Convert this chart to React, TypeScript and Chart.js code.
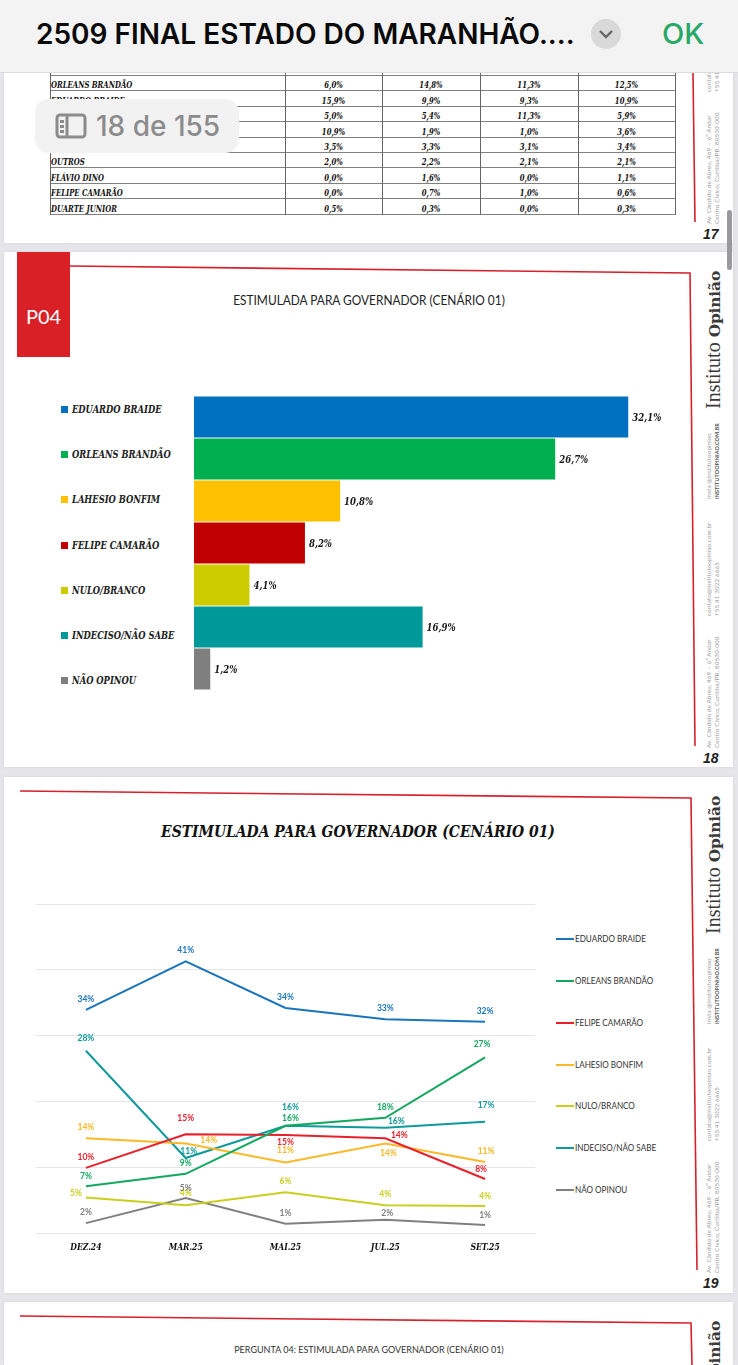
import React, { useEffect, useRef } from "react";
import { Chart, registerables } from "chart.js";

Chart.register(...registerables);

// ---------- data ----------
const barCategories = ["EDUARDO BRAIDE", "ORLEANS BRANDÃO", "LAHESIO BONFIM", "FELIPE CAMARÃO", "NULO/BRANCO", "INDECISO/NÃO SABE", "NÃO OPINOU"];
const barValues = [32.1, 26.7, 10.8, 8.2, 4.1, 16.9, 1.2];
const barColors = ["#0070c0", "#00b050", "#ffc000", "#c00000", "#cccc00", "#009999", "#7f7f7f"];

const waves = ["DEZ.24", "MAR.25", "MAI.25", "JUL.25", "SET.25"];
const braide = [33.9, 41.3, 34.2, 32.5, 32.1];
const orleans = [7.1, 9.0, 16.3, 17.5, 26.7];
const camarao = [9.9, 15.0, 14.9, 14.4, 8.2];
const lahesio = [14.4, 13.6, 10.7, 13.6, 10.8];
const nulo = [5.4, 4.2, 6.2, 4.2, 4.1];
const indeciso = [27.7, 11.4, 16.3, 16.0, 16.9];
const naoOpinou = [1.5, 5.3, 1.4, 2.0, 1.2];

const tableRows = [
  ["ORLEANS BRANDÃO", "6,0%", "14,8%", "11,3%", "12,5%"],
  ["EDUARDO BRAIDE", "15,9%", "9,9%", "9,3%", "10,9%"],
  ["", "5,0%", "5,4%", "11,3%", "5,9%"],
  ["", "10,9%", "1,9%", "1,0%", "3,6%"],
  ["", "3,5%", "3,3%", "3,1%", "3,4%"],
  ["OUTROS", "2,0%", "2,2%", "2,1%", "2,1%"],
  ["FLÁVIO DINO", "0,0%", "1,6%", "0,0%", "1,1%"],
  ["FELIPE CAMARÃO", "0,0%", "0,7%", "1,0%", "0,6%"],
  ["DUARTE JUNIOR", "0,5%", "0,3%", "0,0%", "0,3%"],
];

// ---------- styling tables ----------
const SLAB = '"DejaVu Serif Condensed", "DejaVu Serif", serif';
const lineSeries = [
  { label: "EDUARDO BRAIDE", data: braide, color: "#1b75bb", off: [[0, -11], [0, -11], [0, -11], [0, -11], [0, -11]] },
  { label: "ORLEANS BRANDÃO", data: orleans, color: "#13a85f", off: [[0, -10], [0, -11], [5, -7], [0, -11], [-3, -13]] },
  { label: "FELIPE CAMARÃO", data: camarao, color: "#e8202c", off: [[0, -11], [0, -16], [0, 7], [14, -3], [-4, -10]] },
  { label: "LAHESIO BONFIM", data: lahesio, color: "#fbb829", off: [[0, -11], [23, -3], [0, -12], [3, 10], [1, -11]] },
  { label: "NULO/BRANCO", data: nulo, color: "#c9cf1f", off: [[-10, -4], [0, -12], [0, -11], [0, -11], [0, -10]] },
  { label: "INDECISO/NÃO SABE", data: indeciso, color: "#0f9a9c", off: [[0, -12], [3, -7], [5, -18], [11, -6], [1, -17]] },
  { label: "NÃO OPINOU", data: naoOpinou, color: "#808080", off: [[0, -11], [0, -10], [0, -11], [2, -7], [0, -10]] },
];

const lineLabelsPlugin = {
  id: "lineLabels",
  afterDatasetsDraw(chart: any) {
    const ctx = chart.ctx;
    ctx.save();
    ctx.font = "bold 8.5px Lato";
    ctx.textAlign = "center";
    ctx.textBaseline = "middle";
    lineSeries.forEach((s, i) => {
      ctx.fillStyle = s.color;
      chart.getDatasetMeta(i).data.forEach((pt: any, j: number) => {
        ctx.fillText(Math.round(s.data[j]) + "%", pt.x + s.off[j][0], pt.y + s.off[j][1]);
      });
    });
    ctx.restore();
  },
};

const barLabelsPlugin = {
  id: "barLabels",
  afterDatasetsDraw(chart: any) {
    const ctx = chart.ctx;
    chart.getDatasetMeta(0).data.forEach((bar: any, i: number) => {
      ctx.save();
      ctx.font = `italic bold 11.5px ${SLAB}`;
      ctx.fillStyle = "#1a1a1a";
      ctx.textAlign = "left";
      ctx.textBaseline = "middle";
      ctx.translate(bar.x + 4, bar.y + 1.5);
      ctx.scale(0.83, 1);
      ctx.fillText(barValues[i].toFixed(1).replace(".", ",") + "%", 0, 0);
      ctx.restore();
    });
  },
};

// ---------- small page parts ----------
function Rot({ x, y, style, children }: any) {
  return (
    <div style={{ position: "absolute", left: x, top: y, whiteSpace: "nowrap", transformOrigin: "0 0", transform: "rotate(-90deg)", ...style }}>
      {children}
    </div>
  );
}

function Side({ dy, num }: { dy: number; num: string }) {
  const small = { fontFamily: "Lato", fontSize: 6.3, lineHeight: "7.5px", letterSpacing: 0.1, color: "#9a9a9a" };
  return (
    <>
      <Rot x={701} y={409 + dy} style={{ fontFamily: "Liberation Serif", fontSize: 20, color: "#3a3a3a", lineHeight: "24px" }}>
        Instituto <span style={{ fontFamily: "DejaVu Serif", fontWeight: 600, fontSize: 15.5, letterSpacing: -0.2 }}>Opinião</span>
      </Rot>
      <Rot x={705} y={499 + dy} style={small}>
        insta @institutoopiniao
        <br />
        <b style={{ color: "#555", fontSize: 5.4 }}>INSTITUTOOPINIAO.COM.BR</b>
      </Rot>
      <Rot x={705} y={616 + dy} style={small}>
        contato@institutoopiniao.com.br
        <br />
        +55 41 3022 6665
      </Rot>
      <Rot x={705} y={748 + dy} style={small}>
        Av. Cândido de Abreu, 469 – 6º Andar
        <br />
        Centro Cívico, Curitiba/PR. 80530-000
      </Rot>
      <div style={{ position: "absolute", left: 703, top: 750 + dy, fontFamily: "Liberation Sans", fontStyle: "italic", fontWeight: 700, fontSize: 14, lineHeight: "16px", color: "#222" }}>{num}</div>
    </>
  );
}

function Page({ top, bottom }: { top: number; bottom: number }) {
  return <div style={{ position: "absolute", left: 4, width: 729, top, height: bottom - top, background: "#fff", boxShadow: "0 0 2px #cfcfd4" }} />;
}

const rowTop = 74.7;
const rowH = 15.45;
const colEdges = [50, 285, 382, 480, 578, 675];

function Table() {
  return (
    <div style={{ position: "absolute", left: 0, top: 0, width: 738, height: 240, fontFamily: SLAB, fontStyle: "italic", fontWeight: 700, fontSize: 9, color: "#111" }}>
      {[0, ...tableRows.map((_, i) => i + 1)].map((i) => (
        <div key={i} style={{ position: "absolute", left: colEdges[0], width: colEdges[5] - colEdges[0] + 1, top: rowTop + i * rowH, height: 1, background: "#808080" }} />
      ))}
      {colEdges.map((x) => (
        <div key={x} style={{ position: "absolute", left: x, width: 1, top: rowTop - rowH, height: rowH * (tableRows.length + 1) + 1, background: "#666" }} />
      ))}
      {tableRows.map((r, i) =>
        r.map((c, j) => (
          <div
            key={j}
            style={{
              position: "absolute",
              top: rowTop + i * rowH + 3.5,
              height: rowH,
              lineHeight: rowH + "px",
              left: j === 0 ? colEdges[0] + 1 : colEdges[j],
              width: colEdges[j + 1] - colEdges[j],
              textAlign: j === 0 ? "left" : "center",
              whiteSpace: "nowrap",
              transform: "scaleX(0.85)",
              transformOrigin: j === 0 ? "0 50%" : "50% 50%",
            }}
          >
            {c}
          </div>
        )),
      )}
    </div>
  );
}

export default function App() {
  const barRef = useRef<HTMLCanvasElement>(null);
  const lineRef = useRef<HTMLCanvasElement>(null);

  useEffect(() => {
    const bar = new Chart(barRef.current!, {
      type: "bar",
      data: {
        labels: barCategories,
        datasets: [{ data: barValues, backgroundColor: barColors, categoryPercentage: 1, barPercentage: 0.976 }],
      },
      options: {
        indexAxis: "y",
        animation: false,
        responsive: false,
        layout: { padding: 0 },
        plugins: { legend: { display: false }, tooltip: { enabled: false } },
        scales: {
          x: { display: false, min: 0, max: 36 },
          y: { display: false },
        },
      },
      plugins: [barLabelsPlugin],
    } as any);

    const line = new Chart(lineRef.current!, {
      type: "line",
      data: {
        labels: waves,
        datasets: lineSeries.map((s) => ({
          label: s.label,
          data: s.data,
          borderColor: s.color,
          backgroundColor: s.color,
          borderWidth: 2,
          pointRadius: 0,
          tension: 0,
        })),
      },
      options: {
        animation: false,
        responsive: false,
        layout: { padding: { top: 4 } },
        plugins: { legend: { display: false }, tooltip: { enabled: false } },
        scales: {
          x: {
            offset: true,
            grid: { display: false, drawTicks: false },
            border: { display: false },
            afterFit: (s: any) => { s.height = 27; },
            ticks: { color: "#111", padding: 10, font: { family: SLAB, size: 8.5, weight: "bold", style: "italic" }, maxRotation: 0 },
          },
          y: {
            min: 0,
            max: 50,
            afterFit: (s: any) => { s.width = 0; },
            ticks: { stepSize: 10, display: false },
            border: { display: false },
            grid: { color: "#e6e6e6", lineWidth: 1, drawTicks: false },
          },
        },
      },
      plugins: [lineLabelsPlugin],
    } as any);

    return () => {
      bar.destroy();
      line.destroy();
    };
  }, []);

  const barLegendY = [409, 454, 499, 545, 590, 635, 680];
  const lineLegendY = [939, 981, 1023, 1065, 1106, 1148, 1190];

  return (
    <div style={{ position: "absolute", left: 0, top: 0, width: 738, height: 1365, overflow: "hidden", background: "#e6e6ea", fontFamily: "Lato" }}>
      <Page top={0} bottom={243} />
      <Page top={252} bottom={767} />
      <Page top={777} bottom={1293} />
      <Page top={1302} bottom={1365} />

      {/* page 17 */}
      <Table />
      <Side dy={-524} num="17" />
      <svg width={738} height={1365} style={{ position: "absolute", left: 0, top: 0 }}>
        <g fill="none" stroke="#d8202c" strokeWidth={1.6}>
          <polyline points="692,0 695,222" />
          <polyline points="70,266 690,273 695,746" />
          <polyline points="20,791 691,798 697,1270" />
          <polyline points="20,1316 691,1323 692,1365" />
        </g>
      </svg>
      <Side dy={0} num="18" />
      <Side dy={525} num="19" />
      <Side dy={1050} num="" />

      {/* page 18 */}
      <div style={{ position: "absolute", left: 17, top: 252, width: 53, height: 105, background: "#d92027", color: "#fff", fontSize: 20, lineHeight: "128px", textAlign: "center" }}>P04</div>
      <div style={{ position: "absolute", left: 0, width: 738, top: 292, textAlign: "center", fontSize: 13, lineHeight: "16px", color: "#222", transform: "scaleX(0.915)" }}>ESTIMULADA PARA GOVERNADOR (CENÁRIO 01)</div>
      <canvas ref={barRef} width={487} height={294} style={{ position: "absolute", left: 194, top: 396, width: 487, height: 294 }} />
      {barCategories.map((c, i) => (
        <React.Fragment key={c}>
          <div style={{ position: "absolute", left: 61, top: barLegendY[i] - 3.5, width: 7, height: 7, background: barColors[i] }} />
          <div style={{ position: "absolute", left: 72, top: barLegendY[i] - 7, lineHeight: "14px", fontFamily: SLAB, fontStyle: "italic", fontWeight: 700, fontSize: 10.5, color: "#222", whiteSpace: "nowrap", transform: "scaleX(0.885)", transformOrigin: "0 50%" }}>{c}</div>
        </React.Fragment>
      ))}

      {/* page 19 */}
      <div style={{ position: "absolute", left: 0, width: 716, top: 820, textAlign: "center", fontFamily: SLAB, fontStyle: "italic", fontWeight: 700, fontSize: 17.5, lineHeight: "22px", color: "#111", transform: "scaleX(0.883)" }}>ESTIMULADA PARA GOVERNADOR (CENÁRIO 01)</div>
      <canvas ref={lineRef} width={499} height={360} style={{ position: "absolute", left: 36, top: 900, width: 499, height: 360 }} />
      {lineSeries.map((s, i) => (
        <React.Fragment key={s.label}>
          <div style={{ position: "absolute", left: 556, top: lineLegendY[i] - 1, width: 18, height: 2, background: s.color }} />
          <div style={{ position: "absolute", left: 575, top: lineLegendY[i] - 7, lineHeight: "14px", fontSize: 9, color: "#333", whiteSpace: "nowrap", transform: "scaleX(0.9)", transformOrigin: "0 50%" }}>{s.label}</div>
        </React.Fragment>
      ))}

      {/* page 20 */}
      <div style={{ position: "absolute", left: 0, width: 738, top: 1342, textAlign: "center", fontSize: 10, lineHeight: "14px", color: "#333", transform: "scaleX(0.9)" }}>PERGUNTA 04: ESTIMULADA PARA GOVERNADOR (CENÁRIO 01)</div>

      {/* viewer overlay */}
      <div style={{ position: "absolute", left: 727, top: 210, width: 5, height: 60, borderRadius: 3, background: "#9a9a9a" }} />
      <div style={{ position: "absolute", left: 35, top: 99, width: 204, height: 54, borderRadius: 14, background: "#f2f2f3" }} />
      <svg width={32} height={26} style={{ position: "absolute", left: 55, top: 113 }}>
        <rect x={2} y={2} width={28} height={22} rx={3} fill="none" stroke="#8c8c8c" strokeWidth={3} />
        <line x1={12} y1={2} x2={12} y2={24} stroke="#8c8c8c" strokeWidth={3} />
        <rect x={5} y={7} width={4} height={3} fill="#8c8c8c" />
        <rect x={5} y={12} width={4} height={3} fill="#8c8c8c" />
        <rect x={5} y={17} width={4} height={3} fill="#8c8c8c" />
      </svg>
      <div style={{ position: "absolute", left: 96, top: 108, fontFamily: "Inter", fontWeight: 500, fontSize: 28, lineHeight: "36px", color: "#8c8c8c", whiteSpace: "nowrap" }}>18 de 155</div>

      <div style={{ position: "absolute", left: 0, top: 0, width: 738, height: 72, background: "#f3f3f3", borderBottom: "1px solid #dcdcdc" }} />
      <div style={{ position: "absolute", left: 36, top: 14, fontFamily: "Inter", fontWeight: 600, fontSize: 28, lineHeight: "40px", color: "#0a0a0a", whiteSpace: "nowrap" }}>2509 FINAL ESTADO DO MARANHÃO....</div>
      <svg width={32} height={32} style={{ position: "absolute", left: 590, top: 18 }}>
        <circle cx={16} cy={16} r={15} fill="#d9d9d9" />
        <polyline points="10,13 16,19 22,13" fill="none" stroke="#666" strokeWidth={2.4} />
      </svg>
      <div style={{ position: "absolute", left: 662, top: 14, fontFamily: "Inter", fontWeight: 500, fontSize: 29, lineHeight: "40px", color: "#27a866" }}>OK</div>
    </div>
  );
}
